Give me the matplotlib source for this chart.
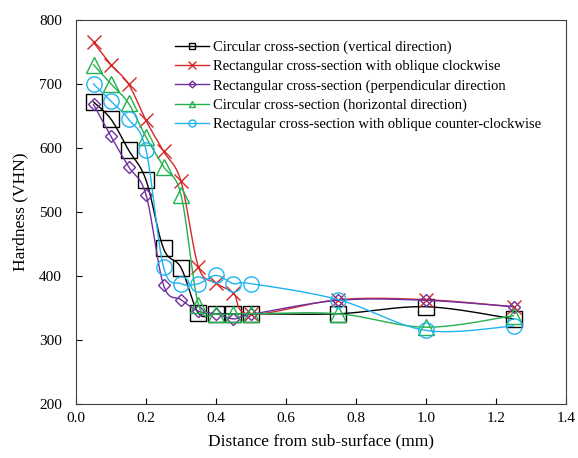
import numpy as np
import matplotlib
matplotlib.use("Agg")
import matplotlib.pyplot as plt
from matplotlib.lines import Line2D

plt.rcParams['font.family'] = ['Liberation Serif', 'DejaVu Serif']

x = [0.05, 0.1, 0.15, 0.2, 0.25, 0.3, 0.35, 0.4, 0.45, 0.5, 0.75, 1.0, 1.25]
circ_vert = [672, 645, 597, 550, 443, 413, 342, 341, 341, 341, 341, 352, 333]
rect_cw = [765, 730, 700, 643, 595, 548, 414, 389, 373, 340, 363, 363, 352]
rect_perp = [668, 618, 571, 527, 386, 363, 345, 341, 333, 340, 362, 362, 352]
circ_horiz = [730, 700, 670, 617, 571, 527, 355, 341, 341, 341, 341, 320, 338]
rect_ccw = [700, 673, 645, 597, 414, 388, 388, 401, 388, 388, 363, 315, 322]

labels = ["Circular cross-section (vertical direction)",
          "Rectangular cross-section with oblique clockwise",
          "Rectangular cross-section (perpendicular direction",
          "Circular cross-section (horizontal direction)",
          "Rectagular cross-section with oblique counter-clockwise"]


def smooth(xs, ys, n=20):
    # catmull-rom style smoothing like spreadsheet "smoothed line"
    p = np.column_stack([xs, ys]).astype(float)
    p = np.vstack([p[0], p, p[-1]])
    out = []
    for i in range(1, len(p) - 2):
        p0, p1, p2, p3 = p[i - 1], p[i], p[i + 1], p[i + 2]
        c1 = p1 + (p2 - p0) / 6
        c2 = p2 - (p3 - p1) / 6
        t = np.linspace(0, 1, n)[:, None]
        seg = ((1 - t) ** 3) * p1 + 3 * ((1 - t) ** 2) * t * c1 + 3 * (1 - t) * t ** 2 * c2 + t ** 3 * p2
        out.append(seg)
    out = np.vstack(out)
    return out[:, 0], out[:, 1]


fig = plt.figure(figsize=(5.78, 4.58), dpi=100)
ax = fig.add_axes([76 / 578, 1 - 404 / 458, 490 / 578, 384 / 458])

series = [
    (circ_vert, 'black', 's', 11, 5),
    (rect_cw, '#d62728', 'x', 10, 6),
    (rect_perp, '#7030a0', 'D', 6, 3.5),
    (circ_horiz, '#22b14c', '^', 11, 5),
    (rect_ccw, '#1fb4f0', 'o', 11, 5),
]

handles = []
for (ys, col, mk, ms, lms), lab in zip(series, labels):
    sx, sy = smooth(x, ys)
    ax.plot(sx, sy, color=col, lw=1.0)
    ax.plot(x, ys, linestyle='none', marker=mk, ms=ms, mfc='none', mec=col, mew=1.0)
    handles.append(Line2D([], [], color=col, lw=1.0, marker=mk, ms=lms, mfc='none', mec=col))

ax.set_xlim(0, 1.4)
ax.set_ylim(200, 800)
ax.set_xticks(np.arange(0, 1.41, 0.2))
ax.set_xticklabels([f"{v:.1f}" for v in np.arange(0, 1.41, 0.2)])
ax.set_yticks(range(200, 801, 100))
ax.tick_params(direction='in', labelsize=11, length=4)
ax.tick_params(axis='y', pad=10)
ax.tick_params(axis='x', pad=6)
for s in ax.spines.values():
    s.set_color('#404040')
ax.set_xlabel("Distance from sub-surface (mm)", fontsize=12.5, labelpad=6)
ax.set_ylabel("Hardness (VHN)", fontsize=12.5, labelpad=8)

ax.legend(handles, labels, loc='upper left', bbox_to_anchor=(0.188, 0.965), frameon=False,
          fontsize=10.5, handlelength=2.3, handletextpad=0.25, labelspacing=0.4, borderpad=0)

fig.savefig("out.png", dpi=100)
